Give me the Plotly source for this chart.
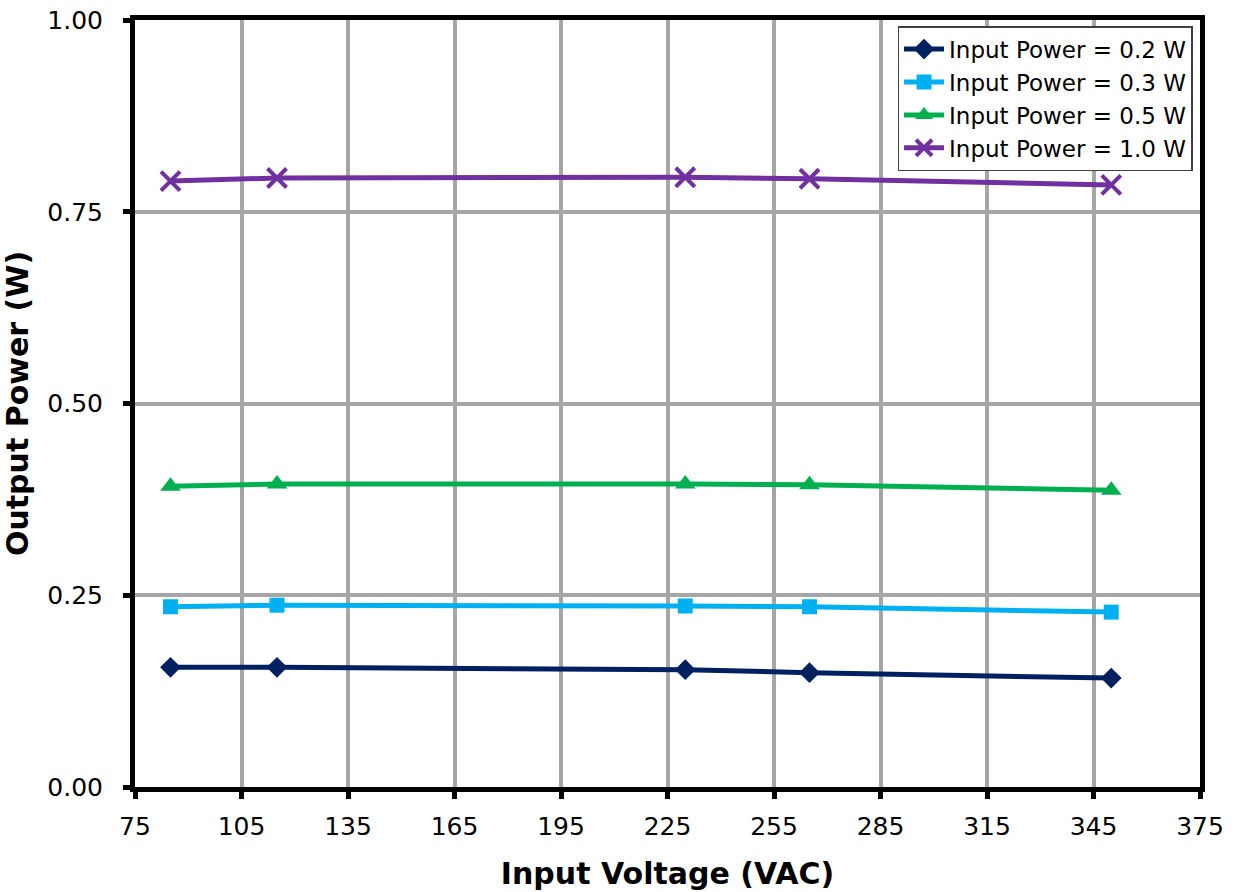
import plotly.graph_objects as go

# Input voltage sweep (VAC)
input_voltage = [85, 115, 230, 265, 350]

# Output power (W) at each input power level
out_p02 = [0.156, 0.156, 0.153, 0.149, 0.142]
out_p03 = [0.235, 0.237, 0.236, 0.235, 0.228]
out_p05 = [0.392, 0.395, 0.395, 0.394, 0.387]
out_p10 = [0.790, 0.794, 0.795, 0.793, 0.785]

series_names = [
    "Input Power = 0.2 W",
    "Input Power = 0.3 W",
    "Input Power = 0.5 W",
    "Input Power = 1.0 W",
]

x_ticks = [75, 105, 135, 165, 195, 225, 255, 285, 315, 345, 375]
y_ticks = [0.0, 0.25, 0.5, 0.75, 1.0]

styles = [
    dict(color="#002060", symbol="diamond", size=16, lw=0),
    dict(color="#00B0F0", symbol="square", size=15, lw=0),
    dict(color="#00B050", symbol="triangle-up", size=18, lw=0),
    dict(color="#7030A0", symbol="x-thin-open", size=19, lw=4),
]

fig = go.Figure()
for name, ys, st in zip(series_names, [out_p02, out_p03, out_p05, out_p10], styles):
    fig.add_trace(go.Scatter(
        x=input_voltage, y=ys, name=name, mode="lines+markers",
        line=dict(color=st["color"], width=5),
        marker=dict(symbol=st["symbol"], size=st["size"], color=st["color"],
                    line=dict(color=st["color"], width=st["lw"])),
    ))

font_family = "DejaVu Sans, Verdana, sans-serif"

fig.update_layout(
    width=1241, height=892,
    margin=dict(l=135, r=41, t=20, b=105),
    paper_bgcolor="white", plot_bgcolor="white",
    font=dict(family=font_family, color="black", size=25),
    showlegend=True,
    legend=dict(
        x=0.993, y=0.992, xanchor="right", yanchor="top",
        bgcolor="white", bordercolor="#404040", borderwidth=1.5,
        font=dict(size=23, family=font_family),
        tracegroupgap=0, itemwidth=40,
    ),
    xaxis=dict(
        range=[75, 375], tickvals=x_ticks, ticktext=[str(v) for v in x_ticks],
        showgrid=True, gridcolor="#A6A6A6", gridwidth=4,
        showline=True, linecolor="black", linewidth=5, mirror=True,
        ticks="outside", tickcolor="black", tickwidth=5, ticklen=7,
        ticklabelstandoff=6, automargin=False,
        zeroline=False,
        title=dict(text="<b>Input Voltage (VAC)</b>", font=dict(size=30, family=font_family), standoff=24),
        tickfont=dict(size=25),
    ),
    yaxis=dict(
        range=[0, 1], tickvals=y_ticks, ticktext=["%.2f" % v for v in y_ticks],
        showgrid=True, gridcolor="#A6A6A6", gridwidth=4,
        showline=True, linecolor="black", linewidth=5, mirror=True,
        ticks="outside", tickcolor="black", tickwidth=5, ticklen=7,
        ticklabelstandoff=15, automargin=False,
        zeroline=False,
        title=dict(text="<b>Output Power (W)</b>", font=dict(size=30, family=font_family), standoff=12),
        tickfont=dict(size=25),
    ),
)

fig.write_html("out.html")
